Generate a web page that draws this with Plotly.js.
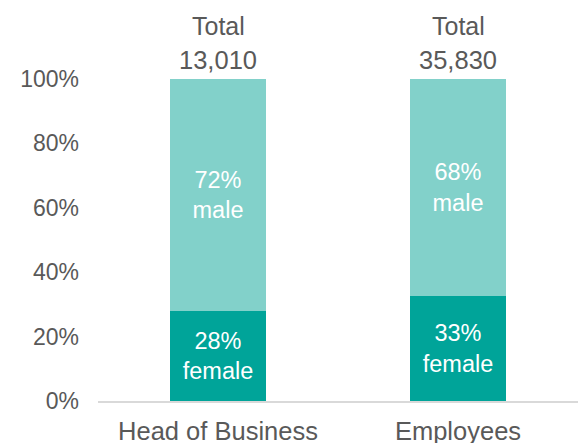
<!DOCTYPE html>
<html>
<head>
<meta charset="utf-8">
<script src="https://cdn.plot.ly/plotly-3.0.1.min.js"></script>
<style>html,body{margin:0;padding:0;background:#fff;}#chart{width:579px;height:443px;}</style>
</head>
<body>
<div id="chart"></div>
<script>
var categories = ["Head of Business", "Employees"];
var femaleShare = [28, 32.5];
var maleShare = [72, 67.5];
var femaleLabels = ["28%<br>female", "33%<br>female"];
var maleLabels = ["72%<br>male", "68%<br>male"];
var totals = ["13,010", "35,830"];
var yTickVals = [0, 20, 40, 60, 80, 100];
var yTickText = ["0%", "20%", "40%", "60%", "80%", "100%"];

var fontFam = "Liberation Sans, Arial, sans-serif";
var grey = "#595959";

var traces = [
  {
    type: "bar", x: categories, y: femaleShare, name: "female",
    marker: {color: "#00A499"}, width: 0.4,
    text: femaleLabels, textposition: "inside", insidetextanchor: "middle",
    textfont: {family: fontFam, size: 23.5, color: "#ffffff"},
    constraintext: "none", hoverinfo: "none"
  },
  {
    type: "bar", x: categories, y: maleShare, name: "male",
    marker: {color: "#82D1CA"}, width: 0.4,
    text: maleLabels, textposition: "inside", insidetextanchor: "middle",
    textfont: {family: fontFam, size: 23.5, color: "#ffffff"},
    constraintext: "none", hoverinfo: "none"
  }
];

var annotations = [];
categories.forEach(function (c, i) {
  var tot = femaleShare[i] + maleShare[i];
  annotations.push({x: c, y: tot, xref: "x", yref: "y", text: totals[i],
    showarrow: false, yanchor: "bottom", yshift: 3,
    font: {family: fontFam, size: 25.5, color: grey}});
  annotations.push({x: c, y: tot, xref: "x", yref: "y", text: "Total",
    showarrow: false, yanchor: "bottom", yshift: 37,
    font: {family: fontFam, size: 25, color: grey}});
});

var layout = {
  width: 579, height: 443,
  margin: {l: 98, r: 1, t: 79, b: 42, pad: 0},
  barmode: "stack",
  showlegend: false,
  paper_bgcolor: "#ffffff", plot_bgcolor: "#ffffff",
  font: {family: fontFam, color: grey},
  xaxis: {
    range: [-0.5, 1.5], showgrid: false, zeroline: false,
    showline: true, linecolor: "#D9D9D9", linewidth: 2,
    ticks: "", ticklabelstandoff: 6,
    tickfont: {family: fontFam, size: 25.5, color: grey},
    fixedrange: true
  },
  yaxis: {
    range: [0, 100], tickvals: yTickVals, ticktext: yTickText,
    showgrid: false, zeroline: false, showline: false,
    ticks: "", ticklabelstandoff: 18,
    tickfont: {family: fontFam, size: 23, color: grey},
    fixedrange: true
  },
  annotations: annotations
};

Plotly.newPlot("chart", traces, layout, {displayModeBar: false, staticPlot: true});
</script>
</body>
</html>
